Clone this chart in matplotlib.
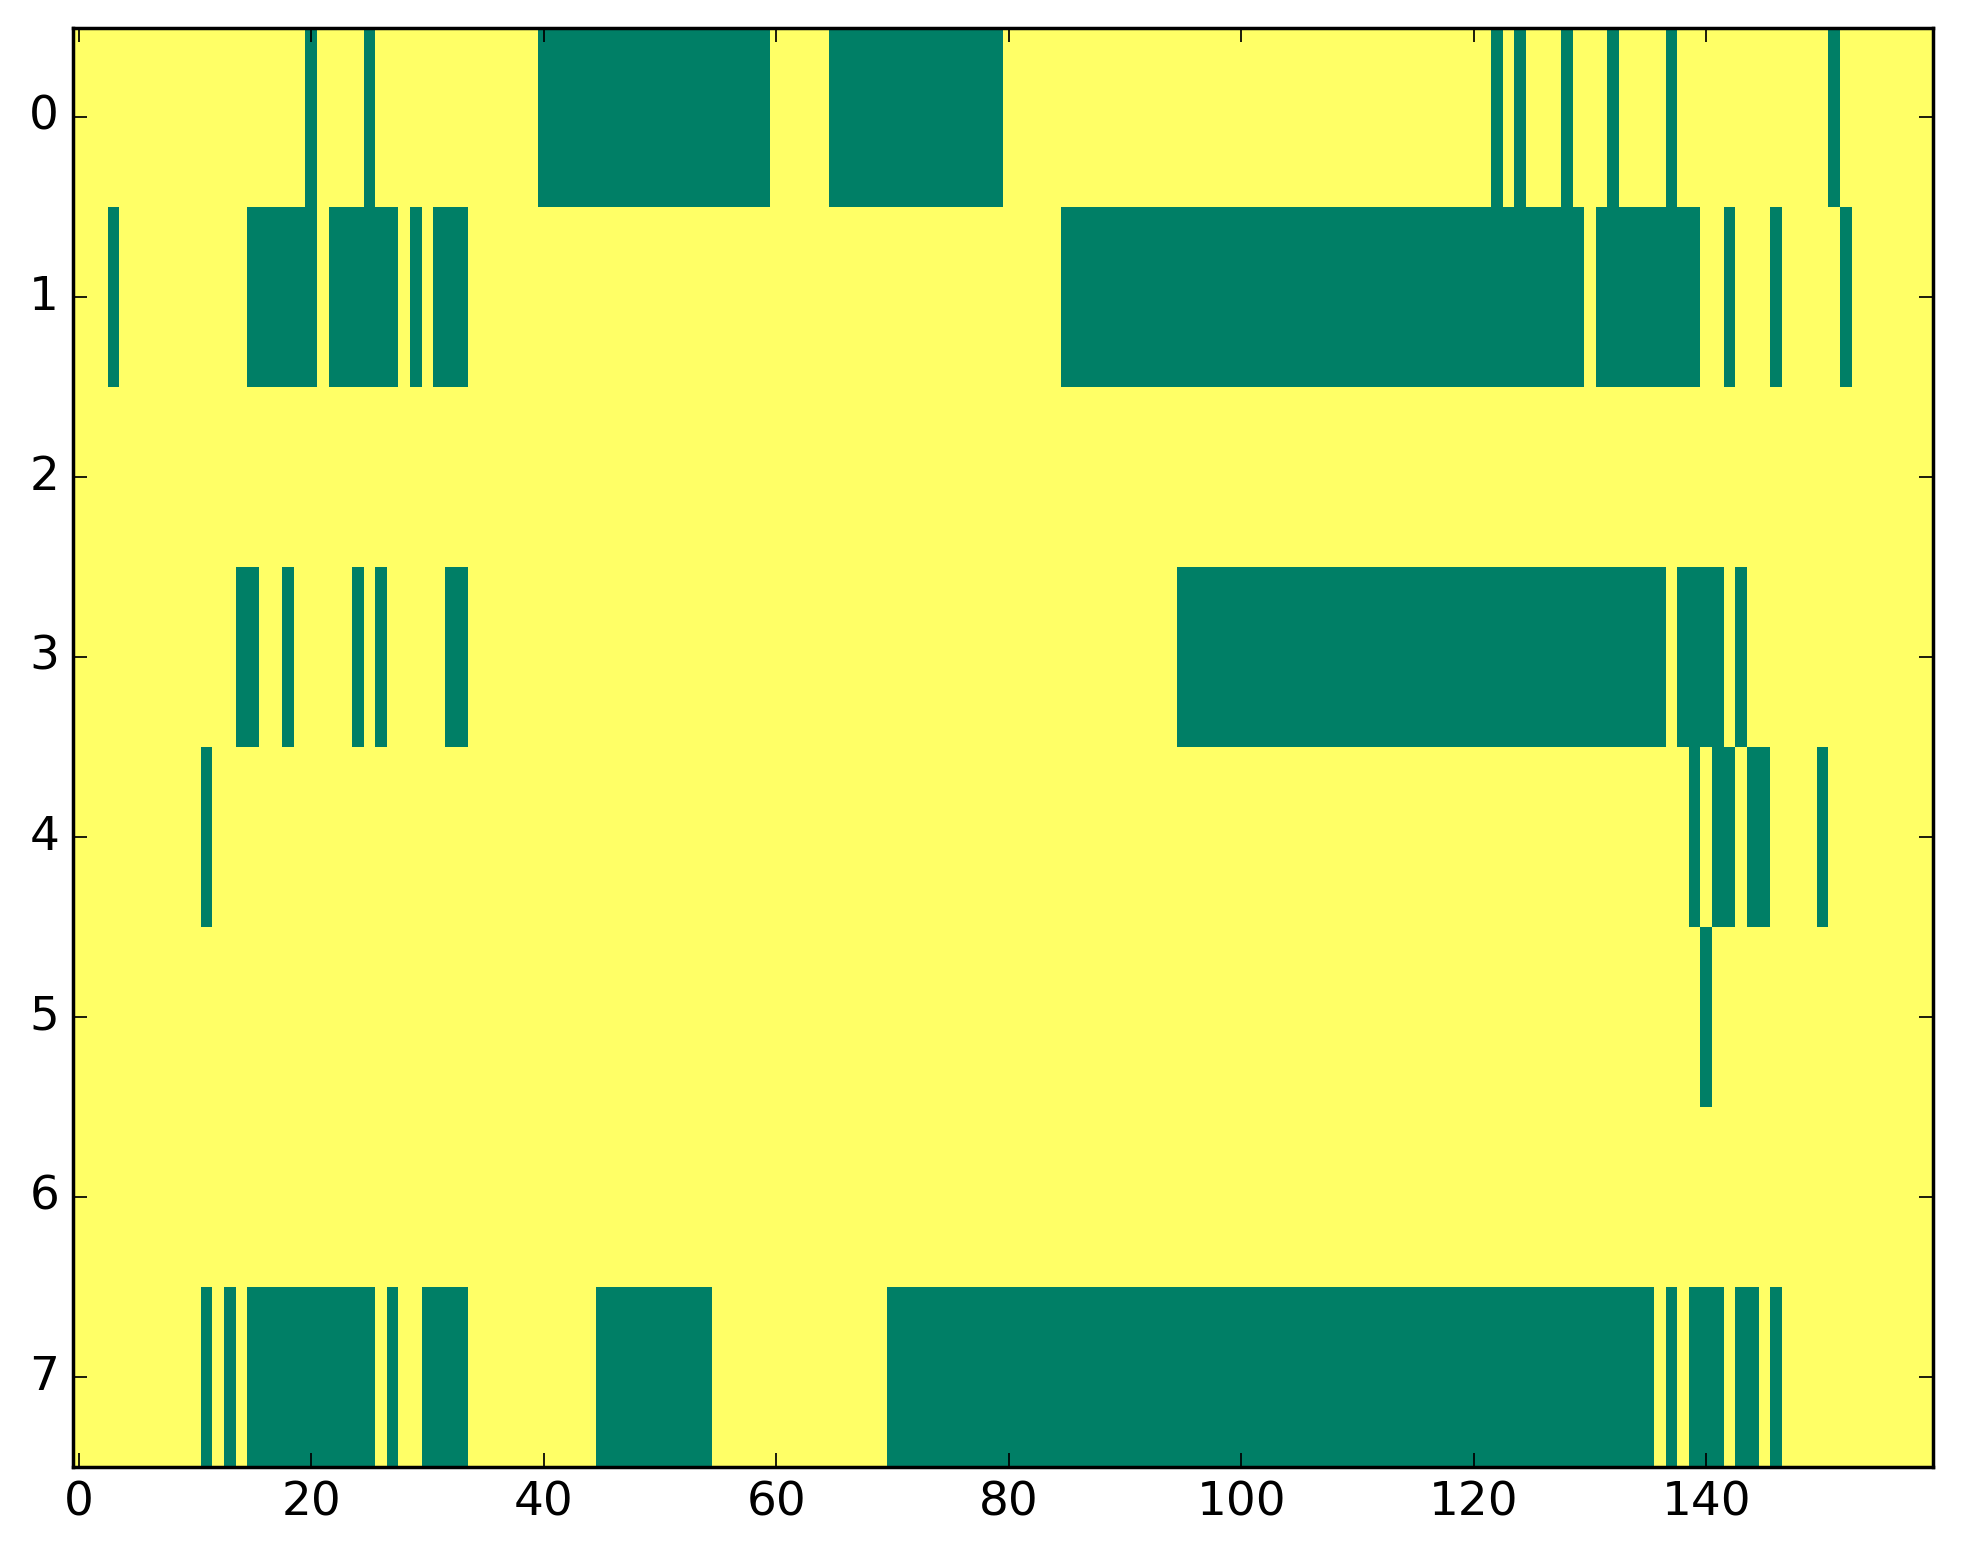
import numpy as np
import matplotlib
matplotlib.use("Agg")
import matplotlib.pyplot as plt

plt.style.use('classic')

n_rows = 8
n_cols = 160

# runs of zeros (green) per row, inclusive column ranges; everything else is 1
row0_zeros = [(20, 20), (25, 25), (40, 59), (65, 79), (122, 122), (124, 124),
              (128, 128), (132, 132), (137, 137), (151, 151)]
row1_zeros = [(3, 3), (15, 20), (22, 27), (29, 29), (31, 33), (85, 129),
              (131, 139), (142, 142), (146, 146), (152, 152)]
row2_zeros = []
row3_zeros = [(14, 15), (18, 18), (24, 24), (26, 26), (32, 33), (95, 136),
              (138, 141), (143, 143)]
row4_zeros = [(11, 11), (139, 139), (141, 142), (144, 145), (150, 150)]
row5_zeros = [(140, 140)]
row6_zeros = []
row7_zeros = [(11, 11), (13, 13), (15, 25), (27, 27), (30, 33), (45, 54),
              (70, 135), (137, 137), (139, 141), (143, 144), (146, 146)]

rows = [row0_zeros, row1_zeros, row2_zeros, row3_zeros,
        row4_zeros, row5_zeros, row6_zeros, row7_zeros]

grid = np.ones((n_rows, n_cols))
for r, runs in enumerate(rows):
    for a, b in runs:
        grid[r, a:b + 1] = 0

fig = plt.figure(figsize=(1963 / 250, 1564 / 250), dpi=250, facecolor='white')
ax = fig.add_axes([0.0372, 0.062, 0.9475, 0.9204])
ax.imshow(grid, cmap='summer', aspect='auto', interpolation='nearest',
          vmin=0, vmax=1)
ax.set_xlim(-0.5, n_cols - 0.5)
ax.set_ylim(n_rows - 0.5, -0.5)
ax.set_xticks(np.arange(0, 141, 20))
ax.set_yticks(np.arange(0, 8))
ax.tick_params(labelsize=13.5)

fig.savefig("out.png", dpi=250, facecolor='white')
